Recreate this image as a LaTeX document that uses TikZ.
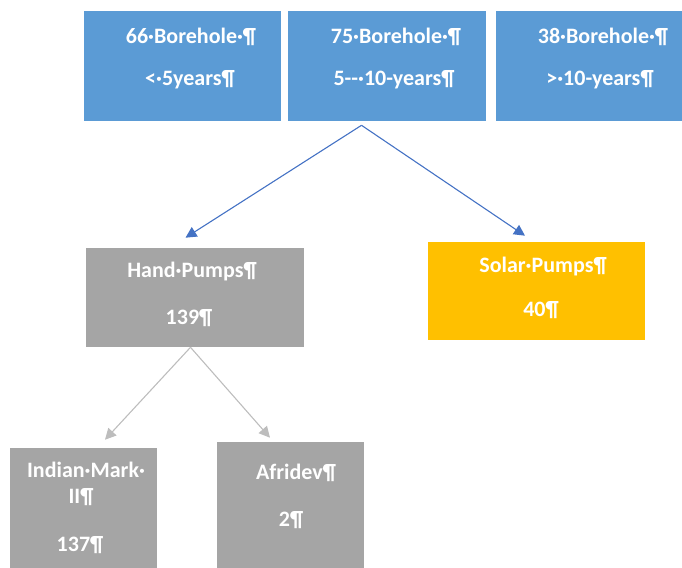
\documentclass[tikz,border=0pt]{standalone}
\usepackage{fontspec}
\setmainfont{Carlito}
\usetikzlibrary{arrows.meta,calc}
\definecolor{boxblue}{HTML}{5B9BD5}
\definecolor{boxgray}{HTML}{A5A5A5}
\definecolor{boxgold}{HTML}{FFC000}
\definecolor{arrblue}{HTML}{4472C4}
\definecolor{arrgray}{HTML}{BDBDBD}
\tikzset{
  box/.style={rectangle, draw=white, line width=0.6pt, inner sep=0pt},
  lbl/.style={text=white, font=\fontsize{22}{22}\selectfont\bfseries, inner sep=0pt, anchor=center},
  conn/.style={line width=1.1pt, -{Triangle[length=11pt,width=11pt]}},
}
\begin{document}
\begin{tikzpicture}[x=1pt,y=-1pt]
\useasboundingbox (0,0) rectangle (682,567);
% boxes
\node[box, fill=boxblue, minimum width=198pt, minimum height=111pt] (b1) at (182,65.5) {};
\node[box, fill=boxblue, minimum width=199pt, minimum height=111pt] (b2) at (386.5,65.5) {};
\node[box, fill=boxblue, minimum width=188pt, minimum height=111pt] (b3) at (589,65.5) {};
\node[box, fill=boxgray, minimum width=219pt, minimum height=100pt] (hp) at (194.5,297) {};
\node[box, fill=boxgold, minimum width=218pt, minimum height=99pt] (sp) at (536,290.5) {};
\node[box, fill=boxgray, minimum width=148pt, minimum height=122pt] (im) at (83,508) {};
\node[box, fill=boxgray, minimum width=148pt, minimum height=128pt] (af) at (290,505) {};
% texts
\node[lbl] (t1a) at (191,37) {66·Borehole·¶};
\node[lbl] (t1b) at (190,80) {<·5years¶};
\node[lbl] (t2a) at (396,37) {75·Borehole·¶};
\node[lbl] (t2b) at (394,80) {5-{}-·10-years¶};
\node[lbl] (t3a) at (603,37) {38·Borehole·¶};
\node[lbl] (t3b) at (600,80) {>·10-years¶};
\node[lbl] (thpa) at (192,272) {Hand·Pumps¶};
\node[lbl] (thpb) at (189,318) {139¶};
\node[lbl] (tspa) at (543,267) {Solar·Pumps¶};
\node[lbl] (tspb) at (541,310) {40¶};
\node[lbl] (tima) at (86,470) {Indian·Mark·};
\node[lbl] (timb) at (81,497) {II¶};
\node[lbl] (timc) at (80,545) {137¶};
\node[lbl] (tafa) at (296,473) {Afridev¶};
\node[lbl] (tafb) at (291,520) {2¶};
% connectors
\coordinate (s1) at ($(b2.south)+(-25,4)$);
\coordinate (e1) at ($(hp.north)+(-9,-9)$);
\coordinate (e2) at ($(sp.north)+(-11,-5)$);
\draw[conn, arrblue] (s1) -- (e1);
\draw[conn, arrblue] (s1) -- (e2);
\coordinate (s2) at ($(hp.south)+(-4,0)$);
\coordinate (e3) at ($(im.north)+(22,-7)$);
\coordinate (e4) at ($(af.north)+(-20,-3)$);
\draw[conn, arrgray] (s2) -- (e3);
\draw[conn, arrgray] (s2) -- (e4);
\end{tikzpicture}
\end{document}
